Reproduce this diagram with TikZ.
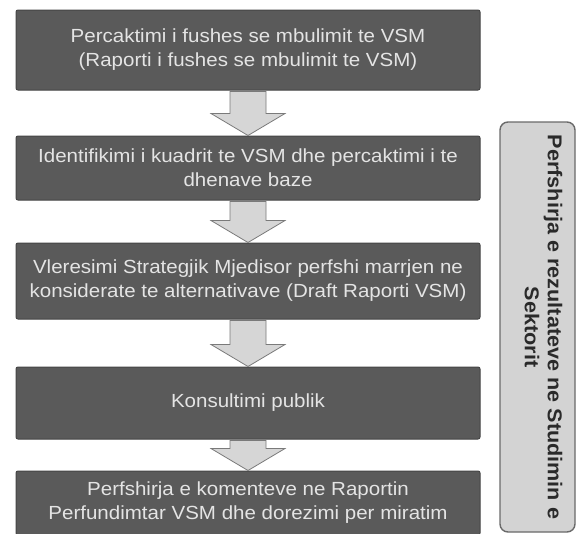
\documentclass[tikz,border=0pt]{standalone}
\usepackage{fontspec}
\setmainfont[FakeStretch=1.08]{Liberation Sans}
\usetikzlibrary{calc}
\definecolor{boxfill}{HTML}{5A5A5A}
\definecolor{boxline}{HTML}{454545}
\definecolor{boxtext}{HTML}{E4E4E4}
\definecolor{arrfill}{HTML}{D6D6D6}
\definecolor{arrline}{HTML}{7A7A7A}
\definecolor{sidefill}{HTML}{D3D3D3}
\definecolor{sideline}{HTML}{6A6A6A}
\definecolor{sidetext}{HTML}{2A2A2A}
\begin{document}
\begin{tikzpicture}[x=1pt,y=-1pt,
  stepbox/.style={draw=boxline, line width=1pt, fill=boxfill, rounded corners=2pt,
    text=boxtext, font=\fontsize{19}{24}\selectfont, align=center,
    minimum width=464pt, inner sep=0pt},
  arrowsty/.style={draw=arrline, line width=0.8pt, fill=arrfill, line join=miter},
  sidebox/.style={draw=sideline, line width=1.4pt, fill=sidefill, rounded corners=8pt,
    rotate=-90, minimum width=410pt, minimum height=75pt, inner sep=0pt},
  sidelabel/.style={text=sidetext, font=\bfseries\fontsize{20}{23}\selectfont,
    align=center, rotate=-90, inner sep=0pt}]
\useasboundingbox[fill=white] (0,0) rectangle (577,533);
\newcommand\blkarrow[2]{%
  \draw[arrowsty] ($(#1.south)+(-18,1)$) -- ($(#2.north)+(-18,-22)$)
    -- ($(#2.north)+(-37,-22)$) -- (#2.north) -- ($(#2.north)+(37,-22)$)
    -- ($(#2.north)+(18,-22)$) -- ($(#1.south)+(18,1)$) -- cycle;}
\node[stepbox, minimum height=80pt] (b1) at (248,50)
  {Percaktimi i fushes se mbulimit te VSM\\(Raporti i fushes se mbulimit te VSM)};
\node[stepbox, minimum height=64pt] (b2) at (248,168)
  {Identifikimi i kuadrit te VSM dhe percaktimi i te\\dhenave baze};
\node[stepbox, minimum height=76pt] (b3) at (248,281)
  {Vleresimi Strategjik Mjedisor perfshi marrjen ne\\konsiderate te alternativave (Draft Raporti VSM)};
\node[stepbox, minimum height=72pt] (b4) at (248,403)
  {Konsultimi publik};
\node[stepbox, minimum height=64pt] (b5) at (248,503)
  {Perfshirja e komenteve ne Raportin\\Perfundimtar VSM dhe dorezimi per miratim};
\blkarrow{b1}{b2}
\blkarrow{b2}{b3}
\blkarrow{b3}{b4}
\blkarrow{b4}{b5}
\node[sidebox] (side) at (537.5,327) {};
\node[sidelabel] (sidetxt) at ($(side.center)+(6,0)$)
  {Perfshirja e rezultateve ne Studimin e\\Sektorit};
\end{tikzpicture}
\end{document}
